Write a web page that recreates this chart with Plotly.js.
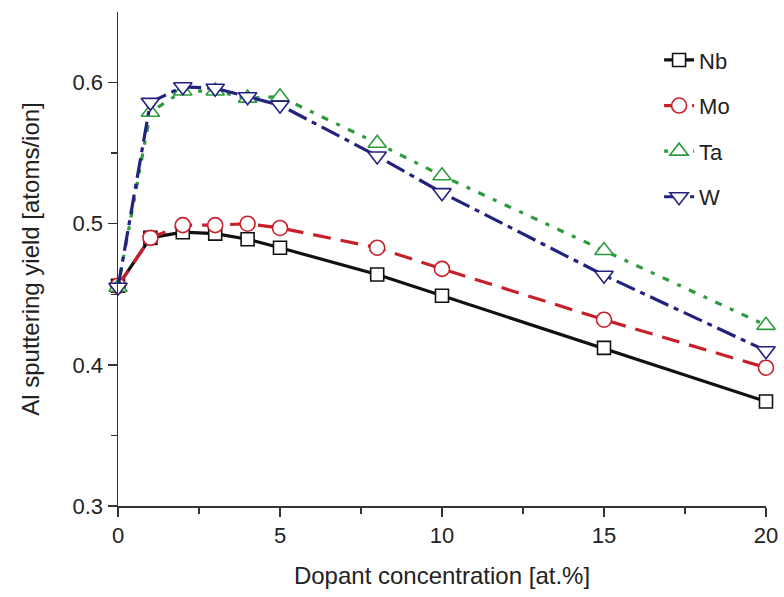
<!DOCTYPE html>
<html>
<head>
<meta charset="utf-8">
<script src="https://cdn.plot.ly/plotly-3.0.1.min.js"></script>
<style>html,body{margin:0;padding:0;background:#fff;}#chart{width:784px;height:597px;}</style>
</head>
<body>
<div id="chart"></div>
<script>
var concentration = [0, 1, 2, 3, 4, 5, 8, 10, 15, 20];
var nb = [0.456, 0.490, 0.494, 0.493, 0.489, 0.483, 0.464, 0.449, 0.412, 0.374];
var mo = [0.456, 0.490, 0.499, 0.499, 0.500, 0.497, 0.483, 0.468, 0.432, 0.398];
var ta = [0.455, 0.579, 0.594, 0.594, 0.589, 0.590, 0.557, 0.534, 0.481, 0.428];
var w  = [0.455, 0.586, 0.597, 0.596, 0.590, 0.584, 0.548, 0.522, 0.4635, 0.410];
var seriesNames = ["Nb", "Mo", "Ta", "W"];
var xTickVals = [0, 5, 10, 15, 20];
var yTickVals = [0.3, 0.4, 0.5, 0.6];

var styles = [
  {color: "#111111", dash: "solid", symbol: "square", size: 13},
  {color: "#c8202a", dash: "18px,10px", symbol: "circle", size: 15},
  {color: "#2e9a3e", dash: "4px,9px,7px,9px", symbol: "triangle-up", size: 16},
  {color: "#23237f", dash: "20px,6px,5px,6px", symbol: "triangle-down", size: 16}
];
var seriesY = [nb, mo, ta, w];

var traces = seriesY.map(function (ys, i) {
  var s = styles[i];
  return {
    x: concentration, y: ys, name: seriesNames[i],
    type: "scatter", mode: "lines+markers", cliponaxis: false,
    line: {color: s.color, width: 3.2, dash: s.dash},
    marker: {symbol: s.symbol, size: s.size, color: "#ffffff", line: {color: s.color, width: 1.6}},
    legendgroup: "g" + i
  };
});

var font = "Liberation Sans, Arial, sans-serif";
var layout = {
  width: 784, height: 597,
  margin: {l: 118, r: 18, t: 12, b: 91},
  paper_bgcolor: "#fff", plot_bgcolor: "#fff",
  font: {family: font, color: "#222", size: 20},
  showlegend: true,
  legend: {
    x: 0.835, y: 0.945, xanchor: "left", yanchor: "top",
    bgcolor: "rgba(0,0,0,0)", font: {size: 22, color: "#222"},
    tracegroupgap: 14
  },
  xaxis: {
    range: [0, 20], showgrid: false, zeroline: false,
    showline: true, linecolor: "#333", linewidth: 1.5,
    ticks: "outside", ticklen: 9, tickwidth: 1.5, tickcolor: "#333",
    tickvals: xTickVals, ticktext: xTickVals.map(String),
    minor: {tickvals: [2.5, 7.5, 12.5, 17.5], ticks: "outside", ticklen: 6, tickwidth: 1.5, tickcolor: "#333"},
    tickfont: {size: 22, color: "#222"},
    title: {text: "Dopant concentration [at.%]", font: {size: 24, color: "#222"}, standoff: 20}
  },
  yaxis: {
    range: [0.3, 0.65], showgrid: false, zeroline: false,
    showline: true, linecolor: "#333", linewidth: 1.5,
    ticks: "outside", ticklen: 9, tickwidth: 1.5, tickcolor: "#333",
    tickvals: yTickVals, ticktext: yTickVals.map(function (v) { return v.toFixed(1); }),
    minor: {tickvals: [0.35, 0.45, 0.55], ticks: "outside", ticklen: 6, tickwidth: 1.5, tickcolor: "#333"},
    tickfont: {size: 22, color: "#222"},
    title: {text: "Al sputtering yield [atoms/ion]", font: {size: 24, color: "#222"}, standoff: 26}
  }
};

Plotly.newPlot("chart", traces, layout, {displayModeBar: false, staticPlot: true});
</script>
</body>
</html>
